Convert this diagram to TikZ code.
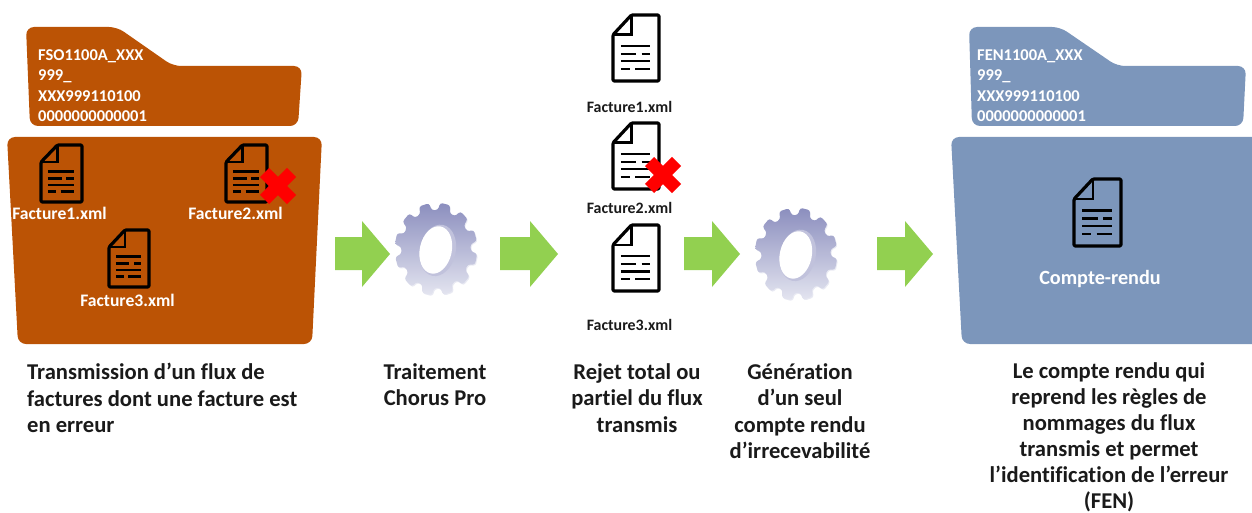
\documentclass[tikz,border=0pt]{standalone}
\usepackage{fontspec}
\setmainfont[Ligatures=NoCommon]{Carlito}
\definecolor{orangef}{HTML}{BB5305}
\definecolor{bluef}{HTML}{7C96BB}
\definecolor{greena}{HTML}{92D050}
\definecolor{labelk}{HTML}{1A1A1A}
\definecolor{geartop}{HTML}{8B8EBE}
\definecolor{gearbot}{HTML}{E4E5F0}
\tikzset{
  foldertab/.style={rounded corners=8pt},
  folderbody/.style={rounded corners=8pt},
  tabtext/.style={text=white,font=\bfseries\fontsize{16.5}{20.5}\selectfont,align=left,anchor=north west,inner sep=0pt},
  captext/.style={text=labelk,font=\bfseries\fontsize{22.6}{26.5}\selectfont,align=center,anchor=north,inner sep=0pt},
  capleft/.style={captext,align=left,anchor=north west},
  whitefile/.style={text=white,font=\bfseries\fontsize{17.6}{18}\selectfont,inner sep=0pt},
  blackfile/.style={text=labelk,font=\bfseries\fontsize{15.9}{16}\selectfont,inner sep=0pt},
  greenarrow/.style={fill=greena,draw=none},
  docline/.style={line width=2.6pt,black,line cap=butt},
  redx/.style={red,line width=13pt,line cap=butt}
}
% x y w h
\newcommand{\docicon}[4]{%
  \begin{scope}[shift={(#1,#2)}]
    \draw[black,line width=3.2pt,line join=round,rounded corners=1.2pt]
      (0.4*#3,0) -- (#3,0) -- (#3,#4) -- (0,#4) -- (0,0.3*#4) -- cycle;
    \draw[black,line width=2.6pt,line join=miter] (0.4*#3,0) -- (0.4*#3,0.3*#4) -- (0,0.3*#4);
    \draw[docline] (0.17*#3,0.47*#4) -- (0.81*#3,0.47*#4);
    \draw[docline] (0.17*#3,0.59*#4) -- (0.51*#3,0.59*#4);
    \draw[docline] (0.62*#3,0.59*#4) -- (0.81*#3,0.59*#4);
    \draw[docline] (0.17*#3,0.70*#4) -- (0.81*#3,0.70*#4);
    \draw[docline] (0.17*#3,0.82*#4) -- (0.37*#3,0.82*#4);
    \draw[docline] (0.48*#3,0.82*#4) -- (0.81*#3,0.82*#4);
  \end{scope}}
\newcommand{\redcross}[2]{%
  \draw[redx] (#1-13.5,#2-13.5) -- (#1+13.5,#2+13.5);
  \draw[redx] (#1-13.5,#2+13.5) -- (#1+13.5,#2-13.5);}
% left, right ends
\newcommand{\blockarrow}[2]{%
  \fill[greenarrow] (#1,237) -- (#2-28,237) -- (#2-28,221) -- (#2,254) -- (#2-28,287) -- (#2-28,270) -- (#1,270) -- cycle;}
\newcommand{\gearpath}{%
  (0:39)
  \foreach \a in {0,30,...,330}{
    -- (\a+3:39) -- (\a+6:46.5) -- (\a+20:46.5) -- (\a+23:39) -- (\a+30:39)
  } -- cycle}
\newcommand{\gearicon}[2]{%
  \begin{scope}[shift={(#1,#2)},xscale=0.89,yscale=1]
    \fill[gearbot!80!white,rounded corners=2.5pt,shift={(1,1)}] \gearpath;
    \shade[top color=geartop,bottom color=gearbot,rounded corners=2.5pt] \gearpath;
  \end{scope}
  \begin{scope}[shift={(#1,#2)}]
    \fill[gearbot!60!geartop,rotate=-12] (2,1) ellipse (18pt and 26pt);
    \fill[white,rotate=-12] (0,1) ellipse (16pt and 24pt);
  \end{scope}}
\begin{document}
\begin{tikzpicture}[x=1pt,y=-1pt]
\useasboundingbox (0,0) rectangle (1252,513);
% left folder
\fill[orangef,foldertab] (26,27) -- (117,27) -- (173,66) -- (302,66) -- (298,126) -- (30,126) -- cycle;
\fill[orangef,folderbody] (7,137) -- (322,137) -- (312,344) -- (18,344) -- cycle;
\node[tabtext] (tabl) at (38,49) {FSO1100A\_XXX\\999\_\\XXX999110100\\0000000000001};
\docicon{41}{145}{41}{57}
\docicon{226}{145}{41}{57}
\docicon{109}{230}{40}{57}
\redcross{278}{186}
\node[whitefile] (fl1) at (59.5,213) {Facture1.xml};
\node[whitefile] (fl2) at (235.5,213) {Facture2.xml};
\node[whitefile] (fl3) at (127.5,300) {Facture3.xml};
% arrows and gears
\blockarrow{335}{390}
\gearicon{436}{249}
\blockarrow{500}{558}
\blockarrow{684}{740}
\gearicon{796}{254}
\blockarrow{877}{933}
% middle documents
\docicon{613}{15}{46}{66}
\docicon{613}{123}{46}{66}
\docicon{613}{225}{46}{66}
\redcross{663}{175}
\node[blackfile] (fm1) at (629.5,107) {Facture1.xml};
\node[blackfile] (fm2) at (629.5,208) {Facture2.xml};
\node[blackfile] (fm3) at (629.5,325) {Facture3.xml};
% right folder
\begin{scope}
\clip (0,0) rectangle (1252,513);
\fill[bluef,foldertab] (969,27) -- (1060,27) -- (1117,66) -- (1246,66) -- (1243,126) -- (972,126) -- cycle;
\fill[bluef,folderbody] (951,137) -- (1262,137) -- (1262,344) -- (962,344) -- cycle;
\end{scope}
\node[tabtext] (tabr) at (977,49) {FEN1100A\_XXX\\999\_\\XXX999110100\\0000000000001};
\docicon{1074}{179}{47}{67}
\node[text=white,font=\bfseries\fontsize{20.2}{22}\selectfont,inner sep=0pt] (cr) at (1100,279) {Compte-rendu};
% captions
\node[capleft] (c1) at (27,363) {Transmission d’un flux de\\factures dont une facture est\\en erreur};
\node[captext] (c2) at (435,363) {Traitement\\Chorus Pro};
\node[captext] (c3) at (637,363) {Rejet total ou\\partiel du flux\\transmis};
\node[captext] (c4) at (800,363) {Génération\\d’un seul\\compte rendu\\d’irrecevabilité};
\node[captext,font=\bfseries\fontsize{22.6}{26}\selectfont] (c5) at (1109,362.5) {Le compte rendu qui\\reprend les règles de\\nommages du flux\\transmis et permet\\l’identification de l’erreur\\(FEN)};
\end{tikzpicture}
\end{document}
